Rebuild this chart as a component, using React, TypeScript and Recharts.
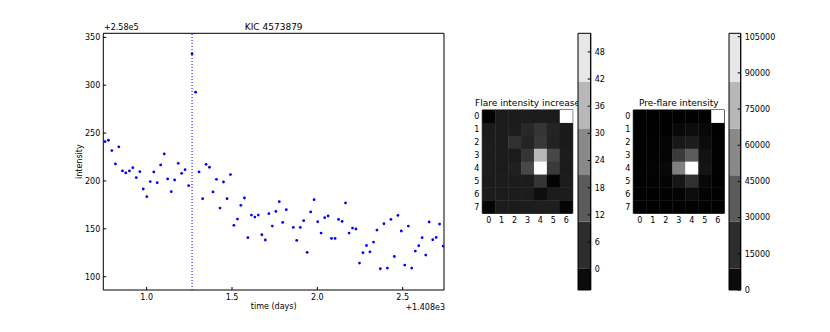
import React from 'react';
import { ScatterChart, Scatter, XAxis, YAxis, ReferenceLine, ReferenceArea } from 'recharts';

// ---------- light curve ----------
const times = [0.756, 0.776, 0.796, 0.817, 0.837, 0.858, 0.878, 0.899, 0.919, 0.939, 0.960, 0.980, 1.001, 1.021, 1.042, 1.062, 1.082, 1.103, 1.123, 1.144, 1.164, 1.185, 1.205, 1.225, 1.246, 1.266, 1.287, 1.307, 1.328, 1.348, 1.368, 1.389, 1.409, 1.430, 1.450, 1.471, 1.491, 1.511, 1.532, 1.552, 1.573, 1.593, 1.614, 1.634, 1.654, 1.675, 1.695, 1.716, 1.736, 1.757, 1.777, 1.797, 1.818, 1.859, 1.879, 1.900, 1.920, 1.940, 1.961, 1.981, 2.002, 2.022, 2.043, 2.063, 2.083, 2.104, 2.124, 2.145, 2.165, 2.186, 2.206, 2.226, 2.247, 2.267, 2.288, 2.308, 2.329, 2.349, 2.369, 2.390, 2.410, 2.431, 2.451, 2.472, 2.492, 2.512, 2.533, 2.553, 2.574, 2.594, 2.614, 2.635, 2.655, 2.676, 2.696, 2.716, 2.737];
const intensity = [241.1, 242.5, 231.7, 217.8, 235.6, 210.5, 208.4, 210.5, 213.9, 203.5, 209.7, 191.6, 183.6, 199.3, 209.4, 198.2, 216.7, 228.2, 202.1, 188.8, 201.0, 218.4, 208.0, 211.8, 195.1, 332.8, 292.7, 209.4, 181.5, 217.4, 214.3, 188.5, 201.7, 171.7, 198.9, 181.5, 206.6, 153.6, 160.2, 174.5, 182.2, 140.7, 164.4, 162.3, 164.4, 143.8, 138.3, 165.8, 152.9, 168.2, 178.3, 156.7, 170.0, 151.5, 137.9, 151.5, 158.5, 125.3, 167.6, 180.4, 157.4, 145.6, 161.6, 163.4, 140.0, 140.0, 159.8, 157.7, 177.0, 145.6, 150.8, 149.8, 114.2, 125.0, 132.6, 126.0, 136.2, 148.7, 108.3, 155.3, 109.0, 159.8, 121.1, 164.0, 147.7, 112.1, 152.9, 109.0, 126.8, 132.3, 140.7, 122.6, 157.1, 138.6, 141.0, 155.0, 132.0];
const flareTime = 1.266;
const xDomain = [0.746, 2.742];
const yDomain = [86.1, 354.2];
const xTicks = [1.0, 1.5, 2.0, 2.5];
const yTicks = [100, 150, 200, 250, 300, 350];

// ---------- pixel maps ----------
const colTicks = [0, 1, 2, 3, 4, 5, 6];
const rowTicks = [0, 1, 2, 3, 4, 5, 6, 7];
const flareIncrease = [
  [-4.0, 1.6, 1.5, 1.7, 1.6, 1.5, 52.0],
  [1.5, 1.6, 1.7, 4.3, 7.2, 3.4, 1.2],
  [1.6, 1.5, 6.1, 3.2, 7.8, 3.0, 1.2],
  [1.7, 1.6, 1.5, 7.0, 36.3, 11.2, 1.6],
  [1.6, 1.5, 2.5, 11.4, 51.4, 8.3, 1.5],
  [1.5, 1.6, 1.7, 1.6, 7.2, -3.9, 1.6],
  [1.6, 1.5, 1.6, 1.7, -1.5, 1.6, 1.7],
  [-3.5, 1.6, 1.5, 1.6, 2.0, 2.0, -3.5],
];
const preFlare = [
  [300, 200, 250, 400, 300, 350, 106000],
  [300, 400, 600, 3300, 5000, 3300, 500],
  [400, 800, 2100, 10000, 11700, 5000, 700],
  [500, 900, 2100, 24200, 38400, 7500, 800],
  [600, 1200, 3300, 53400, 106400, 8300, 900],
  [400, 700, 1500, 9200, 20000, 3300, 600],
  [300, 500, 800, 1500, 5000, 1200, 400],
  [200, 300, 400, 600, 800, 500, 300],
];
const cb1Range = [-4.6, 52.1];
const cb1Ticks = [0, 6, 12, 18, 24, 30, 36, 42, 48];
const cb1Bands = [-4.6, 0.2, 10.5, 20.8, 31.1, 41.4, 52.1];
const cb2Range = [0, 106400];
const cb2Ticks = [0, 15000, 30000, 45000, 60000, 75000, 90000, 105000];
const cb2Bands = [0, 8930, 28250, 47570, 66900, 86200, 106400];

// ---------- layout ----------
const W = 830, H = 332;
const MAIN = { left: 103.3, right: 444, top: 33.3, bottom: 290 };
const HM1 = { left: 482.3, right: 572.7, top: 110, bottom: 213.3 };
const HM2 = { left: 633.3, right: 724.3, top: 110, bottom: 213.3 };
const CB1 = { left: 579, right: 590.7, top: 34.3, bottom: 290 };
const CB2 = { left: 730, right: 740.7, top: 34.3, bottom: 290 };
// every axis gets a 1px band; margins leave room for it
const marginOf = (b: any) => ({ left: b.left - 1, top: b.top - 1, right: W - b.right - 1, bottom: H - b.bottom - 1 });
const layer: React.CSSProperties = { position: 'absolute', left: 0, top: 0, width: W, height: H };
const tickStyle = { fill: '#000', fontSize: 8 };

const gray = (v: number, lo: number, hi: number) => {
  const g = Math.round(Math.max(0, Math.min(1, (v - lo) / (hi - lo))) * 255);
  return `rgb(${g},${g},${g})`;
};

const lcData = times.map((t, i) => ({ t, v: intensity[i] }));
const toCells = (m: number[][]) => {
  const out: any[] = [];
  m.forEach((row, r) => row.forEach((v, c) => out.push({ c, r, v })));
  return out;
};

const Dot = (p: any) => <circle cx={p.cx} cy={p.cy} r={1.4} fill="#0000ff" />;
const NoShape = () => <g />;

const makeCell = (b: any, lo: number, hi: number) => (p: any) => {
  const cw = (b.right - b.left) / 7;
  const ch = (b.bottom - b.top) / 8;
  return <rect x={p.cx - cw / 2} y={p.cy - ch / 2} width={cw + 0.4} height={ch + 0.4} fill={gray(p.payload.v, lo, hi)} />;
};

function Heatmap({ b, m, lo, hi }: any) {
  return (
    <div style={layer}>
      <ScatterChart width={W} height={H} margin={marginOf(b)}>
        <Scatter xAxisId="b" yAxisId="l" data={toCells(m)} shape={makeCell(b, lo, hi)} isAnimationActive={false} />
        <XAxis xAxisId="b" dataKey="c" type="number" domain={[-0.5, 6.5]} ticks={colTicks} interval={0} height={1} tickSize={-3} tickMargin={7} stroke="#000" tick={tickStyle} allowDataOverflow />
        <XAxis xAxisId="t" orientation="top" type="number" domain={[-0.5, 6.5]} ticks={colTicks} height={1} tickSize={-3} tick={false} stroke="#000" allowDataOverflow />
        <YAxis yAxisId="l" dataKey="r" type="number" domain={[-0.5, 7.5]} reversed ticks={rowTicks} interval={0} width={1} tickSize={-3} tickMargin={6} stroke="#000" tick={tickStyle} allowDataOverflow />
        <YAxis yAxisId="r" orientation="right" type="number" domain={[-0.5, 7.5]} reversed ticks={rowTicks} width={1} tickSize={-3} tick={false} stroke="#000" allowDataOverflow />
      </ScatterChart>
    </div>
  );
}

function Colorbar({ b, range, ticks, bands }: any) {
  const lo = range[0], hi = range[1];
  const pts = bands.map((y: number) => ({ x: 0.5, y }));
  return (
    <div style={layer}>
      <ScatterChart width={W} height={H} margin={marginOf(b)}>
        <XAxis xAxisId="b" dataKey="x" type="number" domain={[0, 1]} height={1} tick={false} tickLine={false} axisLine={false} />
        <YAxis yAxisId="r" dataKey="y" orientation="right" type="number" domain={range} ticks={ticks} interval={0} width={1} tickSize={-3} tickMargin={7} stroke="#000" tick={tickStyle} allowDataOverflow />
        {bands.slice(0, -1).map((y1: number, i: number) => {
          const y2 = bands[i + 1];
          return <ReferenceArea key={i} xAxisId="b" yAxisId="r" x1={0} x2={1} y1={y1} y2={y2} fill={gray((y1 + y2) / 2, lo, hi)} fillOpacity={1} stroke="none" ifOverflow="visible" />;
        })}
        <ReferenceArea xAxisId="b" yAxisId="r" x1={0} x2={1} y1={lo} y2={hi} fill="none" stroke="#000" strokeWidth={1} ifOverflow="visible" />
        <Scatter xAxisId="b" yAxisId="r" data={pts} shape={NoShape} isAnimationActive={false} />
      </ScatterChart>
    </div>
  );
}

export default function App() {
  return (
    <div style={{ position: 'absolute', left: 0, top: 0, width: W, height: H, background: '#fff', fontFamily: 'DejaVu Sans, sans-serif' }}>
      <div style={layer}>
        <ScatterChart width={W} height={H} margin={marginOf(MAIN)}>
          <XAxis xAxisId="b" dataKey="t" type="number" domain={xDomain} ticks={xTicks} interval={0} height={1} tickSize={-3} tickMargin={7} stroke="#000" tick={tickStyle} tickFormatter={(v: number) => v.toFixed(1)} allowDataOverflow />
          <XAxis xAxisId="t" orientation="top" type="number" domain={xDomain} ticks={xTicks} height={1} tickSize={-3} tick={false} stroke="#000" allowDataOverflow />
          <YAxis yAxisId="l" dataKey="v" type="number" domain={yDomain} ticks={yTicks} interval={0} width={1} tickSize={-3} tickMargin={6} stroke="#000" tick={tickStyle} allowDataOverflow />
          <YAxis yAxisId="r" orientation="right" type="number" domain={yDomain} ticks={yTicks} width={1} tickSize={-3} tick={false} stroke="#000" allowDataOverflow />
          <ReferenceLine xAxisId="b" yAxisId="l" x={flareTime} stroke="#0000ff" strokeDasharray="1 2" strokeWidth={1} />
          <Scatter xAxisId="b" yAxisId="l" data={lcData} shape={Dot} isAnimationActive={false} />
        </ScatterChart>
      </div>
      <Heatmap b={HM1} m={flareIncrease} lo={cb1Range[0]} hi={cb1Range[1]} />
      <Heatmap b={HM2} m={preFlare} lo={cb2Range[0]} hi={cb2Range[1]} />
      <svg width={W} height={H} style={layer}>
        <text x={273.7} y={29.5} textAnchor="middle" fontSize={9}>KIC 4573879</text>
        <text x={104} y={30} fontSize={8}>+2.58e5</text>
        <text x={273.7} y={308.5} textAnchor="middle" fontSize={8}>time (days)</text>
        <text x={445} y={310} textAnchor="end" fontSize={8}>+1.408e3</text>
        <text transform="translate(81.5,161.7) rotate(-90)" textAnchor="middle" fontSize={8}>intensity</text>
        <text x={527.5} y={105.5} textAnchor="middle" fontSize={9}>Flare intensity increase</text>
        <text x={678.8} y={105.5} textAnchor="middle" fontSize={9}>Pre-flare intensity</text>
      </svg>
      <Colorbar b={CB1} range={cb1Range} ticks={cb1Ticks} bands={cb1Bands} />
      <Colorbar b={CB2} range={cb2Range} ticks={cb2Ticks} bands={cb2Bands} />
    </div>
  );
}
